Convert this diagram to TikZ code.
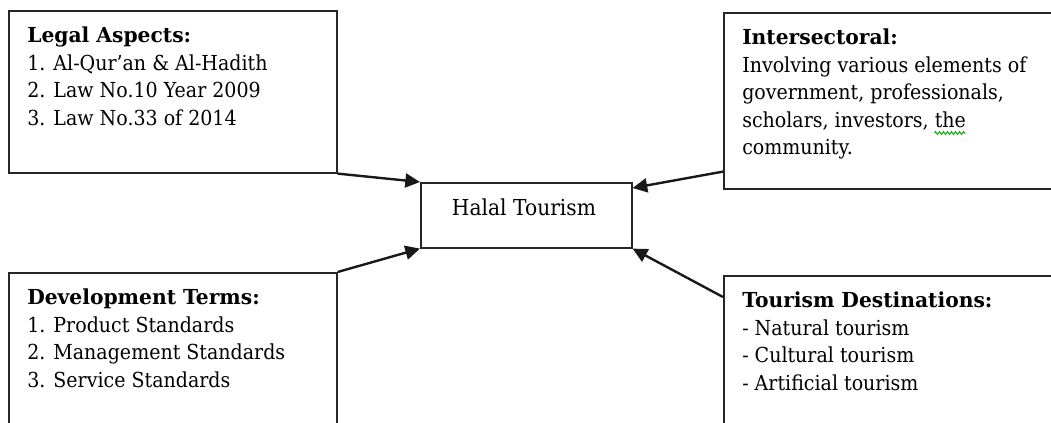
\documentclass[tikz,border=0pt]{standalone}
\usepackage{fontspec}
\setmainfont{DejaVu Serif}[FakeStretch=0.92, BoldFeatures={FakeStretch=0.98}]
\usetikzlibrary{arrows.meta,calc,decorations.pathmorphing}
\newcommand{\fs}{\fontsize{15.5}{20.6}\selectfont}
\newlength{\squigstart}
\newlength{\squigwd}
\definecolor{spellgreen}{RGB}{40,170,40}
\begin{document}
\settowidth{\squigstart}{\fs scholars, investors, }%
\settowidth{\squigwd}{\fs the}%
\begin{tikzpicture}[x=0.75pt,y=-0.75pt,
  box/.style={draw=black!85, line width=1.2pt, rectangle, inner sep=0pt, anchor=north west},
  txt/.style={anchor=north west, inner sep=0pt, align=left, font=\fs},
  arr/.style={line width=1.8pt, black!90, -{Triangle[length=11pt,width=10.5pt]}},
  spell/.style={spellgreen, line width=0.9pt, decorate, decoration={zigzag, amplitude=1pt, segment length=3pt}}]
\useasboundingbox (0,0) rectangle (1051,422);
\clip (0,0) rectangle (1051,422);
\node[box, minimum width=246pt, minimum height=121.5pt] (legal) at (8,10) {};
\node[box, minimum width=258pt, minimum height=132pt] (inter) at (723,12) {};
\node[box, minimum width=246pt, minimum height=130pt] (dev) at (8,272) {};
\node[box, minimum width=258pt, minimum height=130pt] (dest) at (723,275) {};
\node[box, minimum width=158.25pt, minimum height=48.75pt] (halal) at (420,182) {};
\node[font=\fontsize{16.5}{20}\selectfont, anchor=base, inner sep=0pt] (halaltxt) at (524,215) {Halal Tourism};
\node[txt] (legaltxt) at (27,27) {\textbf{Legal Aspects:}\\1. Al-Qur’an \& Al-Hadith\\2. Law No.10 Year 2009\\3. Law No.33 of 2014};
\node[txt] (intertxt) at (742,29) {\textbf{Intersectoral:}\\Involving various elements of\\government, professionals,\\scholars, investors, the\\community.};
\node[txt] (devtxt) at (27,289) {\textbf{Development Terms:}\\1. Product Standards\\2. Management Standards\\3. Service Standards};
\node[txt] (desttxt) at (742,292) {\textbf{Tourism Destinations:}\\- Natural tourism\\- Cultural tourism\\- Artificial tourism};
\coordinate (squigA) at ($(intertxt.north west)+(\squigstart,-78pt)$);
\coordinate (squigB) at ($(squigA)+(\squigwd,0pt)$);
\draw[spell] (squigA) -- (squigB);
\draw[arr] (legal.south east) -- (halal.north west);
\draw[arr] ($(inter.south west)+(0,-18)$) -- ($(halal.north east)+(0,6)$);
\draw[arr] (dev.north east) -- (halal.south west);
\draw[arr] ($(dest.north west)+(0,22)$) -- (halal.south east);
\end{tikzpicture}
\end{document}
